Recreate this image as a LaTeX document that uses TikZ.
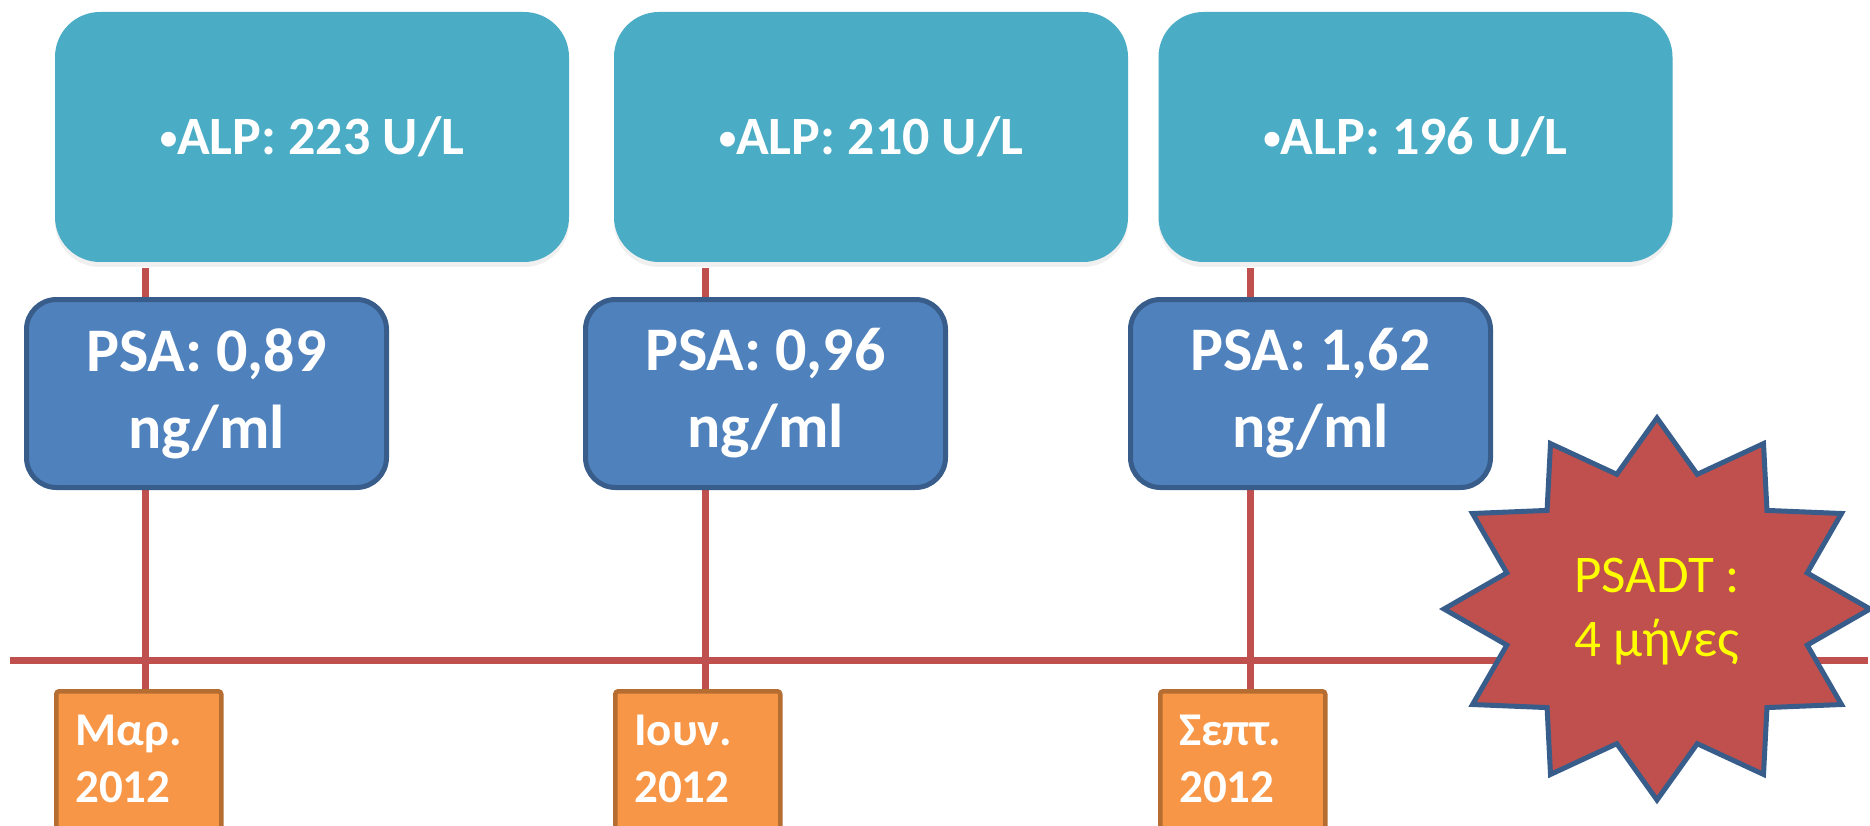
\documentclass[tikz,border=0pt]{standalone}
\usepackage{fontspec}
\setmainfont{Carlito}
\usetikzlibrary{shadows}

\definecolor{alpblue}{HTML}{4BACC6}
\definecolor{psablue}{HTML}{4F81BD}
\definecolor{psaline}{HTML}{385D8A}
\definecolor{timered}{HTML}{C0504D}
\definecolor{dateorange}{HTML}{F79646}
\definecolor{dateline}{HTML}{B66D31}
\definecolor{psadtyellow}{HTML}{FFFF00}

% small list bullet in front of the ALP values
\newcommand{\alpdot}{\raisebox{5pt}{\fontsize{35}{35}\selectfont •}}

\tikzset{
  alpbox/.style={fill=alpblue, rounded corners=45pt, minimum width=514pt, minimum height=250pt,
    text=white, font=\fontsize{54}{64}\selectfont\bfseries,
    drop shadow={shadow xshift=0pt, shadow yshift=-5pt, opacity=0.12}},
  psabox/.style={fill=psablue, draw=psaline, line width=5pt, rounded corners=30pt,
    minimum width=360pt, minimum height=188pt, align=center,
    text=white, font=\fontsize{62}{77}\selectfont\bfseries},
  datebox/.style={fill=dateorange, draw=dateline, line width=4.5pt, rounded corners=3pt,
    anchor=north west, text width=127pt, align=left, inner xsep=19pt, inner ysep=24pt,
    text depth=140pt, text=white, font=\fontsize{47}{57}\selectfont\bfseries},
  timeline/.style={timered, line width=7pt},
  starbox/.style={fill=timered, draw=psaline, line width=5pt, line join=miter}
}

\begin{document}
\begin{tikzpicture}[x=1pt, y=-1pt]
    \useasboundingbox (0,0) rectangle (1870,826);

    % ALP values
    \node[alpbox] (alpA) at (312,137) {\alpdot ALP: 223 U/L};
    \node[alpbox] (alpB) at (871,137) {\alpdot ALP: 210 U/L};
    \node[alpbox] (alpC) at (1415.5,137) {\alpdot ALP: 196 U/L};

    % Dates
    \node[datebox] (dateA) at (54,689) {Μαρ.\\2012};
    \node[datebox] (dateB) at (613,689) {Ιουν.\\2012};
    \node[datebox] (dateC) at (1158,689) {Σεπτ.\\2012};

    % Time axis
    \coordinate (axisL) at (10,660);
    \coordinate (axisR) at (1868,660);
    \draw[timeline] (axisL) -- (axisR);

    % Ticks (behind the PSA boxes)
    \coordinate (tickA) at (145,268);
    \coordinate (tickB) at (705,268);
    \coordinate (tickC) at (1250,268);
    \draw[timeline] (tickA) -- (tickA |- dateA.north);
    \draw[timeline] (tickB) -- (tickB |- dateB.north);
    \draw[timeline] (tickC) -- (tickC |- dateC.north);

    % PSA values
    \node[psabox] (psaA) at (206.5,393.5) {PSA: 0,89\\ng/ml};
    \node[psabox] (psaB) at (765.5,393.5) {PSA: 0,96\\ng/ml};
    \node[psabox] (psaC) at (1310.5,393.5) {PSA: 1,62\\ng/ml};

    % Doubling time star
    \begin{scope}[shift={(1657,609)}, x=213pt, y=191pt]
        \draw[starbox] (90:1) \foreach \a in {90,120,...,420} { -- (\a+15:0.73) -- (\a+30:1) } -- cycle;
    \end{scope}
    \node[align=center, text=psadtyellow, font=\fontsize{53}{64}\selectfont] (psadt) at (1657,612) {PSADT :\\4 μήνες};
\end{tikzpicture}
\end{document}
